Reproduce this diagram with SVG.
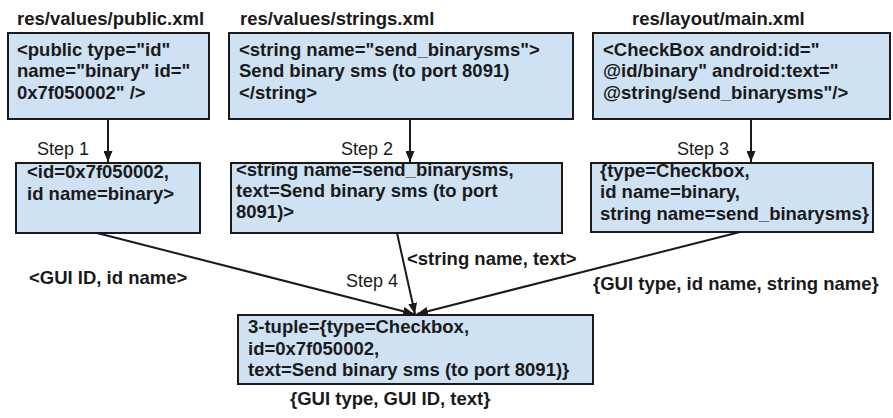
<svg xmlns="http://www.w3.org/2000/svg" width="893" height="418" viewBox="0 0 893 418">
  <style>
    .box { fill: #cfe2f3; stroke: #1a1a1a; stroke-width: 2; }
    .t { font-family: "Liberation Sans", Arial, sans-serif; font-size: 18.5px; font-weight: bold; fill: #1a1a1a; }
    .step { font-family: "Liberation Sans", Arial, sans-serif; font-size: 18px; fill: #1a1a1a; }
    .edge { stroke: #1a1a1a; stroke-width: 2; fill: none; marker-end: url(#arrow); }
  </style>
  <defs>
    <marker id="arrow" viewBox="0 0 11 9" refX="11" refY="4.5" markerWidth="5.5" markerHeight="4.5" orient="auto" markerUnits="strokeWidth">
      <path d="M0,0 L11,4.5 L0,9 z" fill="#1a1a1a"/>
    </marker>
  </defs>
  <rect width="893" height="418" fill="#ffffff"/>

  <!-- file headers -->
  <text class="t" x="17" y="25">res/values/public.xml</text>
  <text class="t" x="240" y="25">res/values/strings.xml</text>
  <text class="t" x="632" y="25">res/layout/main.xml</text>

  <g id="public-xml">
    <rect class="box" x="8" y="33" width="201" height="86"/>
    <text class="t" x="17" y="56">&lt;public type="id"</text>
    <text class="t" x="17" y="77">name="binary" id="</text>
    <text class="t" x="17" y="99">0x7f050002" /&gt;</text>
  </g>

  <g id="strings-xml">
    <rect class="box" x="229" y="33" width="344" height="86"/>
    <text class="t" x="239" y="56">&lt;string name="send_binarysms"&gt;</text>
    <text class="t" x="239" y="77">Send binary sms (to port 8091)</text>
    <text class="t" x="239" y="99">&lt;/string&gt;</text>
  </g>

  <g id="main-xml">
    <rect class="box" x="593" y="33" width="297" height="86"/>
    <text class="t" x="603" y="56">&lt;CheckBox android:id="</text>
    <text class="t" x="603" y="77">@id/binary" android:text="</text>
    <text class="t" x="603" y="99">@string/send_binarysms"/&gt;</text>
  </g>

  <g id="id-pair">
    <rect class="box" x="16" y="163" width="184" height="70"/>
    <text class="t" x="27" y="178">&lt;id=0x7f050002,</text>
    <text class="t" x="27" y="200">id name=binary&gt;</text>
  </g>

  <g id="string-pair">
    <rect class="box" x="231" y="163" width="331" height="70"/>
    <text class="t" x="236" y="176">&lt;string name=send_binarysms,</text>
    <text class="t" x="236" y="197">text=Send binary sms (to port</text>
    <text class="t" x="236" y="218">8091)&gt;</text>
  </g>

  <g id="checkbox-triple">
    <rect class="box" x="591" y="163" width="282" height="69"/>
    <text class="t" x="600" y="177">{type=Checkbox,</text>
    <text class="t" x="600" y="198">id name=binary,</text>
    <text class="t" x="600" y="220">string name=send_binarysms}</text>
  </g>

  <g id="result">
    <rect class="box" x="238" y="315" width="355" height="69"/>
    <text class="t" x="248" y="333">3-tuple={type=Checkbox,</text>
    <text class="t" x="248" y="355">id=0x7f050002,</text>
    <text class="t" x="248" y="376">text=Send binary sms (to port 8091)}</text>
  </g>

  <g id="connectors">
    <line class="edge" x1="108" y1="119" x2="108" y2="162"/>
    <line class="edge" x1="410" y1="119" x2="410" y2="162"/>
    <line class="edge" x1="751" y1="119" x2="751" y2="162"/>
    <line class="edge" x1="97" y1="233" x2="414" y2="314"/>
    <line class="edge" x1="397" y1="233" x2="415" y2="314"/>
    <line class="edge" x1="740" y1="232" x2="417" y2="314"/>
  </g>

  <!-- step and edge labels -->
  <text class="step" x="37" y="155">Step 1</text>
  <text class="step" x="341" y="155">Step 2</text>
  <text class="step" x="677" y="155">Step 3</text>
  <text class="step" x="346" y="287">Step 4</text>
  <text class="t" x="29" y="284">&lt;GUI ID, id name&gt;</text>
  <text class="t" x="407" y="265">&lt;string name, text&gt;</text>
  <text class="t" x="593" y="290">{GUI type, id name, string name}</text>
  <text class="t" x="290" y="405">{GUI type, GUI ID, text}</text>
</svg>
